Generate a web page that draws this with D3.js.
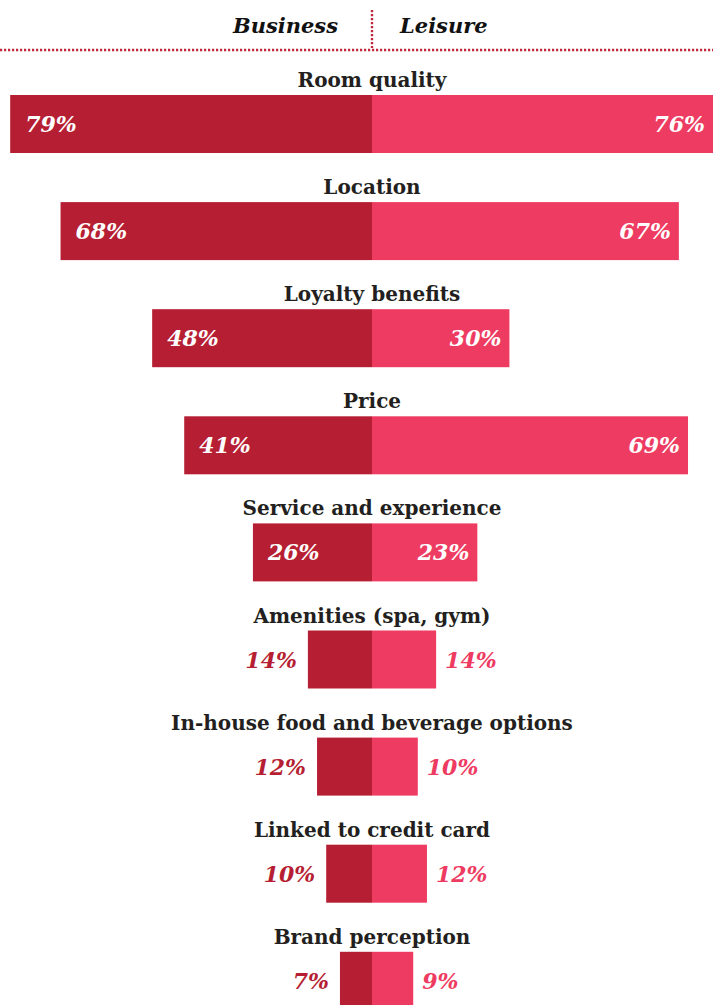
<!DOCTYPE html>
<html>
<head>
<meta charset="utf-8">
<script src="https://cdnjs.cloudflare.com/ajax/libs/d3/7.8.5/d3.min.js"></script>
<style>
  body { margin: 0; background: #fff; }
  svg { display: block; }
  .title { font-family: "DejaVu Serif", serif; font-weight: bold; fill: #231f20; }
  .val { font-family: "DejaVu Serif", serif; font-weight: bold; font-style: italic; }
  .head { font-family: "DejaVu Serif", serif; font-weight: bold; font-style: italic; fill: #111; }
</style>
</head>
<body>
<div class="chart"></div>
<script>
// data
var categories = ["Room quality", "Location", "Loyalty benefits", "Price", "Service and experience",
                  "Amenities (spa, gym)", "In-house food and beverage options", "Linked to credit card", "Brand perception"];
var business = [79, 68, 48, 41, 26, 14, 12, 10, 7];
var leisure  = [76, 67, 30, 69, 23, 14, 10, 12, 9];
var seriesNames = ["Business", "Leisure"];

var width = 713, height = 1005;
var cx = 372;          // centre line
var barH = 58;
var colBiz = "#b61f33", colLei = "#ee3b61";

var svg = d3.select(".chart").append("svg")
  .attr("width", width)
  .attr("height", height);

// header
svg.append("text").attr("class", "head")
  .attr("x", cx - 34).attr("y", 33)
  .attr("text-anchor", "end").attr("font-size", 21)
  .text(seriesNames[0]);
svg.append("text").attr("class", "head")
  .attr("x", cx + 28).attr("y", 33)
  .attr("font-size", 21)
  .text(seriesNames[1]);

svg.append("line")
  .attr("x1", cx).attr("x2", cx).attr("y1", 10).attr("y2", 48)
  .attr("stroke", "#c0283e").attr("stroke-width", 2.4).attr("stroke-dasharray", "2.2,1.8");
svg.append("line")
  .attr("x1", 0).attr("x2", width).attr("y1", 50).attr("y2", 50)
  .attr("stroke", "#c0283e").attr("stroke-width", 2.4).attr("stroke-dasharray", "2.2,1.8");

// scales
var x = d3.scaleLinear().domain([0, 100]).range([0, 458]);
var y = d3.scaleBand()
  .domain(categories)
  .range([95, 95 + categories.length * 107.1]);

var rows = categories.map(function(c, i) {
  return { cat: c, biz: business[i], lei: leisure[i] };
});

var g = svg.selectAll(".row")
  .data(rows)
  .enter().append("g")
    .attr("class", "row")
    .attr("transform", function(d) { return "translate(0," + y(d.cat) + ")"; });

g.append("text")
  .attr("class", "title")
  .attr("x", cx)
  .attr("y", -8)
  .attr("text-anchor", "middle")
  .attr("font-size", 20)
  .text(function(d) { return d.cat; });

g.append("rect")
  .attr("x", function(d) { return cx - x(d.biz); })
  .attr("y", 0)
  .attr("width", function(d) { return x(d.biz); })
  .attr("height", barH)
  .attr("fill", colBiz);

g.append("rect")
  .attr("x", cx)
  .attr("y", 0)
  .attr("width", function(d) { return x(d.lei); })
  .attr("height", barH)
  .attr("fill", colLei);

// value labels: inside when the bar is wide, outside otherwise
var inside = function(v) { return v >= 20; };

g.append("text")
  .attr("class", "val")
  .attr("font-size", 22)
  .attr("y", barH / 2 + 8)
  .attr("x", function(d) { return inside(d.biz) ? cx - x(d.biz) + 15 : cx - x(d.biz) - 11; })
  .attr("text-anchor", function(d) { return inside(d.biz) ? "start" : "end"; })
  .attr("fill", function(d) { return inside(d.biz) ? "#fff" : colBiz; })
  .text(function(d) { return d.biz + "%"; });

g.append("text")
  .attr("class", "val")
  .attr("font-size", 22)
  .attr("y", barH / 2 + 8)
  .attr("x", function(d) {
    var end = Math.min(cx + x(d.lei), width);
    return inside(d.lei) ? end - 8 : end + 9;
  })
  .attr("text-anchor", function(d) { return inside(d.lei) ? "end" : "start"; })
  .attr("fill", function(d) { return inside(d.lei) ? "#fff" : colLei; })
  .text(function(d) { return d.lei + "%"; });
</script>
</body>
</html>
